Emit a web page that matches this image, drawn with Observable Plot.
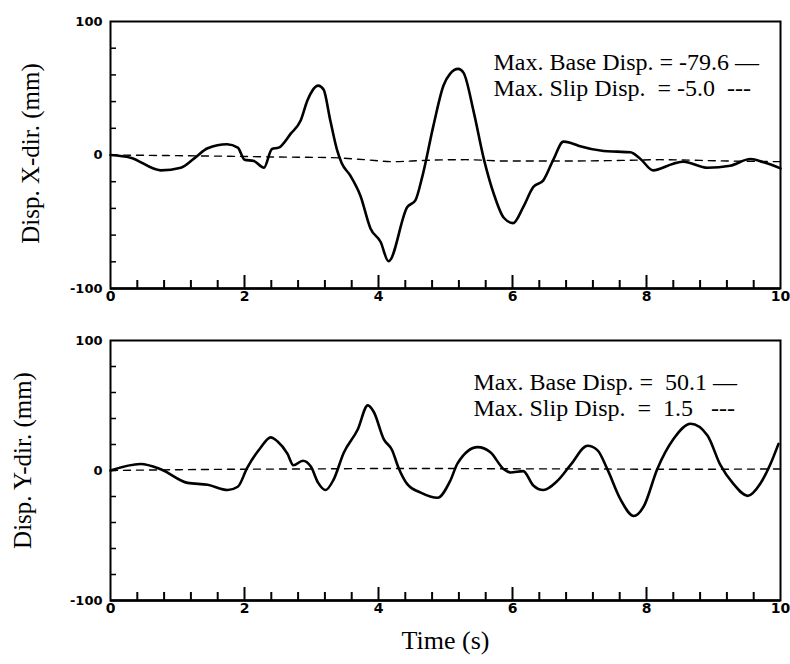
<!DOCTYPE html>
<html><head><meta charset="utf-8">
<script src="https://cdn.jsdelivr.net/npm/d3@7"></script>
<script src="https://cdn.jsdelivr.net/npm/@observablehq/plot@0.6"></script>
<style>
body{margin:0;background:#fff;}
#wrap{position:relative;width:790px;height:664px;background:#fff;}
#wrap svg{position:absolute;left:0;overflow:visible;}
</style></head><body><div id="wrap"></div>
<script>
// ---------- Data ----------
// Top panel: X-direction displacement (mm) vs time (s)
const tX = [0, 0.3, 0.75, 1.05, 1.25, 1.45, 1.74, 1.9, 2.0, 2.14, 2.29, 2.41, 2.51, 2.69, 2.84, 2.94, 3.1, 3.18, 3.28, 3.38, 3.45, 3.58, 3.73, 3.88, 4.03, 4.15, 4.43, 4.55, 4.65, 4.82, 4.97, 5.07, 5.19, 5.27, 5.42, 5.57, 5.72, 5.87, 6.01, 6.16, 6.31, 6.46, 6.61, 6.76, 6.87, 7.01, 7.36, 7.56, 7.76, 7.91, 8.1, 8.4, 8.55, 8.91, 9.25, 9.55, 9.75, 10];
const baseX = [0, -2, -11.5, -9.5, -2.5, 5, 8, 5.5, -3.5, -4.5, -9.5, 4.5, 5.5, 16, 26, 41, 52, 49, 26, 4, -6, -15.5, -30.5, -55, -65, -79.6, -39, -34, -17, 22, 52, 61, 64.5, 61.5, 32.5, -2.5, -29, -47, -51, -39, -24, -19, -3.5, 10, 9, 6.5, 3, 2.5, 2, -3, -11.5, -6.5, -5, -9.5, -8, -3, -5.5, -10];
const tSlipX = [0, 1, 1.85, 2.5, 3.3, 3.8, 4.2, 4.7, 5.3, 5.9, 6.7, 7.7, 8.2, 9.2, 10];
const slipX = [0, -0.5, -1, -1.5, -2, -3.5, -5, -4, -3.5, -4.5, -4.5, -4, -3.5, -4.5, -5];

// Bottom panel: Y-direction displacement (mm) vs time (s)
const tY = [0, 0.45, 0.75, 1.15, 1.45, 1.75, 1.9, 2.04, 2.24, 2.39, 2.49, 2.64, 2.73, 2.87, 2.99, 3.1, 3.21, 3.33, 3.48, 3.69, 3.84, 3.93, 4.08, 4.2, 4.3, 4.43, 4.63, 4.88, 5.07, 5.18, 5.48, 5.67, 5.87, 5.97, 6.16, 6.31, 6.46, 6.67, 6.87, 7.12, 7.27, 7.42, 7.61, 7.81, 7.96, 8.16, 8.4, 8.66, 8.91, 9.1, 9.3, 9.51, 9.7, 9.85, 9.97];
const baseY = [0, 5, 1, -9.5, -11, -15, -12.5, 2, 17.5, 25.5, 22.5, 13, 4, 7.5, 3, -9.5, -15, -7, 13.5, 31.5, 50.1, 45, 24, 16, 2, -10.5, -17, -21, -8, 5.5, 18, 14, 1, -1.5, -0.5, -11.5, -15, -8, 4.5, 19, 15.5, 0.5, -22, -35, -27.5, 1, 24, 36, 27, 4.5, -10.5, -19.5, -10, 5, 20.5];
const tSlipY = [0, 0.8, 2, 3, 4, 5, 6, 7, 8, 9, 10];
const slipY = [0, 0.5, 1, 1.2, 1.5, 1.5, 1.3, 1.2, 1, 1, 1.2];

// Axes / ticks / labels
const xTickLabels = [0, 2, 4, 6, 8, 10];
const xMinorTicks = [0.4, 0.8, 1.2, 1.6, 2.4, 2.8, 3.2, 3.6, 4.4, 4.8, 5.2, 5.6, 6.4, 6.8, 7.2, 7.6, 8.4, 8.8, 9.2, 9.6];
const xMajorTicks = [2, 4, 6, 8];
const yTickLabels = [-100, 0, 100];
const yTickText = ["-100", "0", "100"];
const yMinorTicks = [-80, -60, -40, -20, 0, 20, 40, 60, 80];

const legendX = ["Max. Base Disp. = -79.6 \u2014", "Max. Slip Disp.\u00a0 = -5.0\u00a0 ---"];
const legendY = ["Max. Base Disp. =\u00a0 50.1 \u2014", "Max. Slip Disp.\u00a0 =\u00a0 1.5\u00a0\u00a0 ---"];
const yTitleX = "Disp. X-dir. (mm)";
const yTitleY = "Disp. Y-dir. (mm)";
const xTitle = "Time (s)";

// ---------- Drawing ----------
const rows = (t, v) => t.map((d, i) => ({t: d, v: v[i]}));
const SERIF = "Liberation Serif, Times New Roman, serif";
const SANS = "DejaVu Sans, Liberation Sans, sans-serif";

function panel({t, base, ts, slip, legend, legendDy, ytitle, ytDx, ytDy, height, mt, mb, withTime}) {
  const W = 790 - 110 - 10;
  const H = height - mt - mb;
  const marks = [
    Plot.tickX(xMinorTicks, {x: d => d, insetTop: H - 8, strokeWidth: 2, stroke: "#000"}),
    Plot.tickX(xMajorTicks, {x: d => d, insetTop: H - 13, strokeWidth: 2, stroke: "#000"}),
    Plot.tickY(yMinorTicks, {y: d => d, insetRight: W - 6, strokeWidth: 1.5, stroke: "#000"}),
    Plot.frame({stroke: "#000", strokeWidth: 2}),
    Plot.ruleY([-100], {stroke: "#000", strokeWidth: 2.5}),
    Plot.axisX({ticks: xTickLabels, label: null, tickSize: 0, tickPadding: 3, fontSize: 14, fontWeight: "bold", fontFamily: SANS, tickFormat: d => String(d)}),
    Plot.axisY({ticks: yTickLabels, label: null, tickSize: 0, tickPadding: 8, fontSize: 13, fontWeight: "bold", fontFamily: SANS, tickFormat: d => yTickText[yTickLabels.indexOf(d)]}),
    Plot.line(rows(ts, slip), {x: "t", y: "v", stroke: "#000", strokeWidth: 1.4, strokeDasharray: "7,6", curve: "monotone-x"}),
    Plot.line(rows(t, base), {x: "t", y: "v", stroke: "#000", strokeWidth: 2.6, curve: "monotone-x"}),
    Plot.text([legend.join("\n")], {frameAnchor: "top-left", textAnchor: "start", lineAnchor: "top", lineHeight: 1.12, dx: legendDy[0], dy: legendDy[1], fontSize: 24, fontFamily: SERIF, fill: "#000"}),
    Plot.text([ytitle], {frameAnchor: "left", textAnchor: "middle", lineAnchor: "middle", rotate: -90, dx: ytDx, dy: ytDy, fontSize: 25, fontFamily: SERIF, fill: "#000"})
  ];
  if (withTime) marks.push(Plot.text([xTitle], {frameAnchor: "bottom", textAnchor: "middle", dy: 48, fontSize: 26, fontFamily: SERIF, fill: "#000"}));
  return Plot.plot({
    width: 790, height,
    marginLeft: 110, marginRight: 10, marginTop: mt, marginBottom: mb,
    x: {domain: [0, 10], label: null},
    y: {domain: [-100, 100], label: null},
    style: {background: "transparent", color: "#000", overflow: "visible"},
    marks
  });
}

const topPanel = panel({t: tX, base: baseX, ts: tSlipX, slip: slipX, legend: legendX, legendDy: [383, 29],
  ytitle: yTitleX, ytDx: -80, ytDy: -1.5, height: 320, mt: 21, mb: 32, withTime: false});
const botPanel = panel({t: tY, base: baseY, ts: tSlipY, slip: slipY, legend: legendY, legendDy: [363, 30],
  ytitle: yTitleY, ytDx: -88, ytDy: -10, height: 344, mt: 20, mb: 64, withTime: true});
topPanel.style.top = "0px";
botPanel.style.top = "320px";
document.getElementById("wrap").append(topPanel, botPanel);
</script>
</body></html>
